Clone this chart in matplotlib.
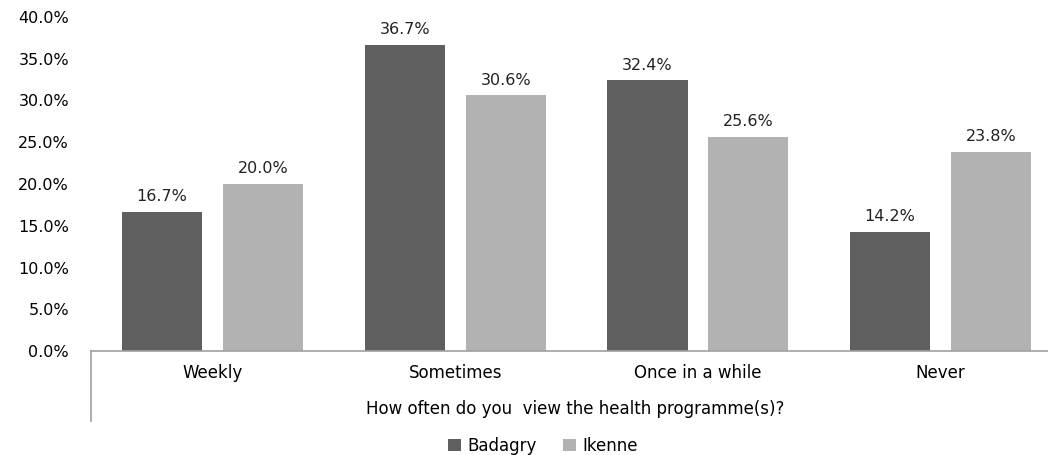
import numpy as np
import matplotlib.pyplot as plt
from matplotlib.lines import Line2D

categories = ['Weekly', 'Sometimes', 'Once in a while', 'Never']
badagry = [16.7, 36.7, 32.4, 14.2]
ikenne = [20.0, 30.6, 25.6, 23.8]
series_names = ['Badagry', 'Ikenne']
colors = ['#5f5f5f', '#b2b2b2']

plt.rcParams['font.family'] = ['Verdana', 'DejaVu Sans']

fig = plt.figure(figsize=(10.48, 4.55), dpi=100)
W, H = 1048, 455
# axes: x from 91 px, 243 px per category; y from 17 (40%) to 351 (0%)
unit = 242.7
ax = fig.add_axes([91.2 / W, 1 - 351 / H, 4 * unit / W, (351 - 17) / H])

x = np.arange(len(categories))
bw = 0.33
off = 0.208
b1 = ax.bar(x - off, badagry, bw, color=colors[0], label=series_names[0])
b2 = ax.bar(x + off, ikenne, bw, color=colors[1], label=series_names[1])

for bars, vals in [(b1, badagry), (b2, ikenne)]:
    for b, v in zip(bars, vals):
        ax.text(b.get_x() + b.get_width() / 2, v + 0.95, f'{v:.1f}%',
                ha='center', va='bottom', fontsize=11.5, color='#222222')

ax.set_xlim(-0.5, 3.5)
ax.set_ylim(0, 40)
ax.set_yticks(np.arange(0, 41, 5))
ax.set_yticklabels([f'{t:.1f}%' for t in np.arange(0, 41, 5)], fontsize=11.5)
ax.tick_params(axis='y', length=0, pad=16)
ax.set_xticks(x)
ax.set_xticklabels(categories, fontsize=12)
ax.tick_params(axis='x', length=0, pad=9)

for s in ['top', 'right', 'left']:
    ax.spines[s].set_visible(False)
ax.spines['bottom'].set_color('#a0a0a0')
ax.spines['bottom'].set_linewidth(1.2)

# left category-axis border line hanging below the axis
ax.add_line(Line2D([0, 0], [0, -70 / 334], transform=ax.transAxes,
                   color='#a0a0a0', lw=1.2, clip_on=False))

fig.text(575 / W, 1 - 409 / H, 'How often do you  view the health programme(s)?',
         ha='center', va='center', fontsize=12)

leg = fig.legend(handles=[b1, b2], labels=series_names, loc='center',
                 bbox_to_anchor=(543 / W, 1 - 446 / H), ncol=2, frameon=False,
                 fontsize=12, handlelength=0.75, handleheight=0.75,
                 handletextpad=0.4, columnspacing=1.6)

fig.savefig('out.png', dpi=100)
